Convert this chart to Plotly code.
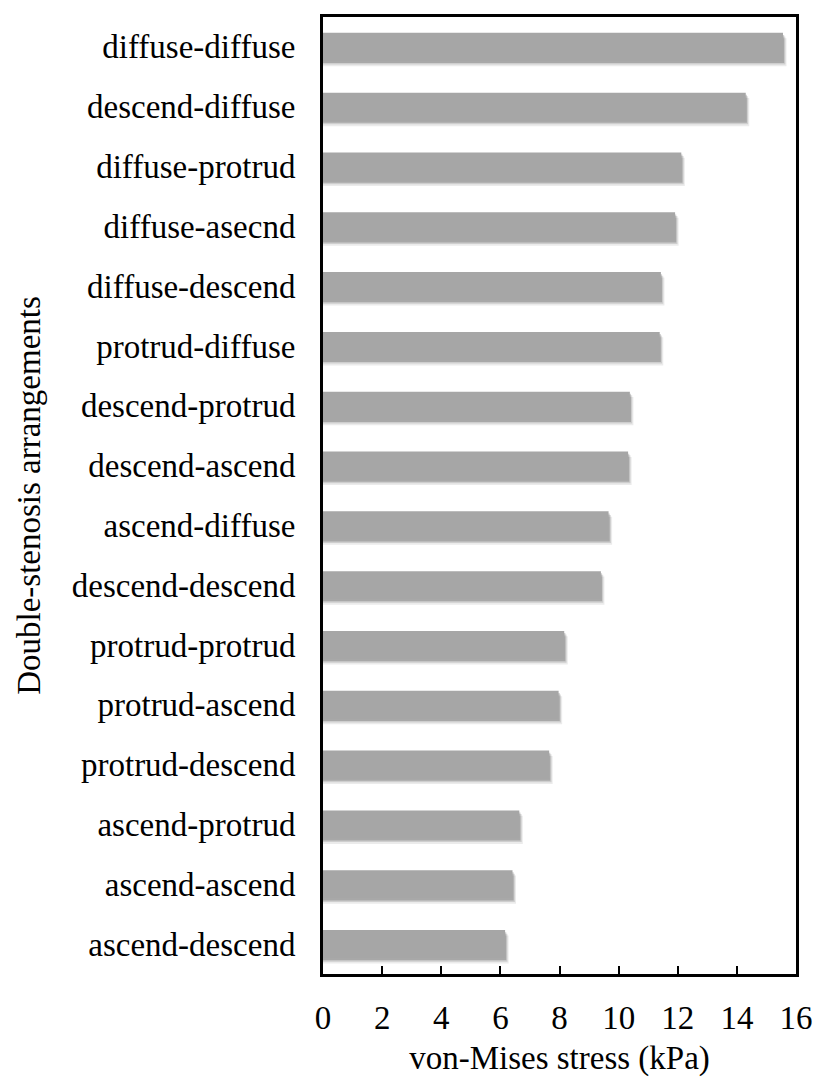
import plotly.graph_objects as go

categories = [
    "diffuse-diffuse", "descend-diffuse", "diffuse-protrud", "diffuse-asecnd",
    "diffuse-descend", "protrud-diffuse", "descend-protrud", "descend-ascend",
    "ascend-diffuse", "descend-descend", "protrud-protrud", "protrud-ascend",
    "protrud-descend", "ascend-protrud", "ascend-ascend", "ascend-descend",
]
stress_kpa = [
    15.56, 14.30, 12.12, 11.91,
    11.43, 11.39, 10.38, 10.32,
    9.66, 9.40, 8.16, 7.97,
    7.65, 6.64, 6.41, 6.16,
]
x_ticks = [0, 2, 4, 6, 8, 10, 12, 14, 16]

FONT = "Liberation Serif, Times New Roman, serif"
BAR_W = 0.47

fig = go.Figure()
# soft drop shadow layers
for dx, dy, alpha in [(0.12, 0.09, 0.08), (0.08, 0.06, 0.12), (0.04, 0.035, 0.18)]:
    fig.add_trace(go.Bar(
        y=categories, x=[v + dx for v in stress_kpa], orientation="h",
        width=BAR_W, offset=-BAR_W / 2 + dy,
        marker=dict(color=f"rgba(0,0,0,{alpha})", line=dict(width=0)),
        hoverinfo="skip", showlegend=False,
    ))
fig.add_trace(go.Bar(
    y=categories, x=stress_kpa, orientation="h",
    width=BAR_W, offset=-BAR_W / 2,
    marker=dict(color="#a6a6a6", line=dict(width=0)),
    showlegend=False,
))

fig.update_layout(
    width=814, height=1081,
    margin=dict(l=323, r=18, t=17, b=107),
    barmode="overlay",
    plot_bgcolor="white", paper_bgcolor="white",
    font=dict(family=FONT, size=33, color="black"),
    xaxis=dict(
        range=[0, 16], tickvals=x_ticks, ticktext=[str(t) for t in x_ticks],
        ticks="inside", ticklen=8, tickwidth=2, tickcolor="black",
        showline=True, linewidth=3, linecolor="black", mirror=True,
        showgrid=False, zeroline=False,
        ticklabelstandoff=12,
        title=dict(text="von-Mises stress (kPa)", standoff=12,
                   font=dict(family=FONT, size=33)),
        tickfont=dict(family=FONT, size=33),
        automargin=False,
    ),
    yaxis=dict(
        categoryorder="array", categoryarray=categories, autorange="reversed",
        ticks="", showline=True, linewidth=3, linecolor="black", mirror=True,
        showgrid=False, zeroline=False,
        ticklabelstandoff=18,
        title=dict(text="Double-stenosis arrangements", standoff=22,
                   font=dict(family=FONT, size=33)),
        tickfont=dict(family=FONT, size=33),
        automargin=False,
    ),
)

fig.write_html(
    "out.html",
    config={"displayModeBar": False},
    post_script="document.body.style.margin='0';document.body.style.overflow='hidden';",
)
